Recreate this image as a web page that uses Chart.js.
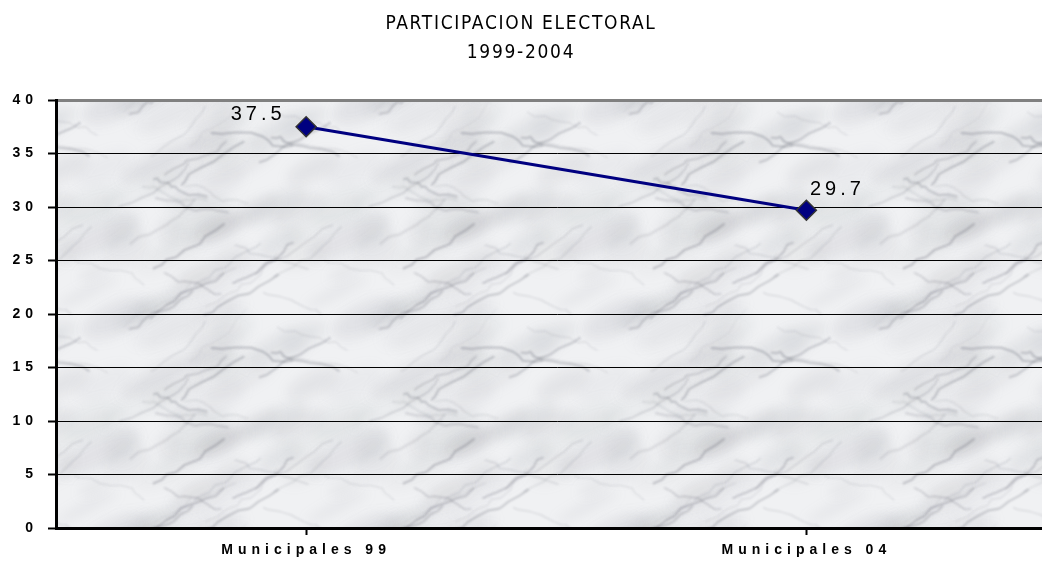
<!DOCTYPE html>
<html>
<head>
<meta charset="utf-8">
<script src="https://cdn.jsdelivr.net/npm/chart.js@4"></script>
<style>
  html, body { margin: 0; padding: 0; background: #fff; overflow: hidden; }
  #wrap { width: 1068px; height: 563px; }
</style>
</head>
<body>
<div id="wrap"><canvas id="chart" width="1068" height="563"></canvas></div>
<script>
// datos
const categories = ['Municipales 99', 'Municipales 04'];
const participacion = [37.5, 29.7];
const yTicks = [0, 5, 10, 15, 20, 25, 30, 35, 40];
const titleLines = ['PARTICIPACION ELECTORAL', '1999-2004'];

const condensed = "'DejaVu Sans Condensed', 'Liberation Sans', Arial, sans-serif";
const sans = "'Liberation Sans', Arial, sans-serif";

// marble-ish tile for the plot background (wraps seamlessly)
function marbleTile() {
  const W = 250, H = 215;
  const c = document.createElement('canvas');
  c.width = W; c.height = H;
  const g = c.getContext('2d');
  g.fillStyle = '#f0f1f3';
  g.fillRect(0, 0, W, H);
  let s = 29;
  const rnd = () => { s = (s * 9301 + 49297) % 233280; return s / 233280; };
  const wrapped = fn => {
    for (const dx of [-W, 0, W]) for (const dy of [-H, 0, H]) fn(dx, dy);
  };
  g.filter = 'blur(6px)';
  for (let i = 0; i < 50; i++) {
    const x = rnd() * W, y = rnd() * H, rx = 12 + rnd() * 35, ry = 5 + rnd() * 12, a = 0.04 + rnd() * 0.09;
    wrapped((dx, dy) => {
      g.fillStyle = 'rgba(135,137,146,' + a + ')';
      g.beginPath();
      g.ellipse(x + dx, y + dy, rx, ry, -0.45, 0, Math.PI * 2);
      g.fill();
    });
  }
  g.filter = 'blur(1px)';
  for (let i = 0; i < 30; i++) {
    const pts = [];
    let x = rnd() * W, y = rnd() * H;
    const dir = rnd() < 0.7 ? -1 : 1;
    pts.push([x, y]);
    for (let k = 0; k < 9; k++) {
      x += 3 + rnd() * 9;
      y += dir * (rnd() * 7) - 1.5;
      pts.push([x, y]);
    }
    const col = 'rgba(110,112,124,' + (0.12 + rnd() * 0.3) + ')';
    const lw = 0.6 + rnd() * 1.6;
    wrapped((dx, dy) => {
      g.strokeStyle = col;
      g.lineWidth = lw;
      g.beginPath();
      pts.forEach(([px, py], k) => k ? g.lineTo(px + dx, py + dy) : g.moveTo(px + dx, py + dy));
      g.stroke();
    });
  }
  return c;
}
const tile = marbleTile();

const spacing = {
  id: 'spacing',
  beforeLayout(chart) { chart.ctx.letterSpacing = '1.7px'; },
  afterLayout(chart) {
    const ctx = chart.ctx;
    Object.values(chart.scales).forEach(sc => {
      if (sc._spaced) return;
      const draw = sc.drawLabels.bind(sc);
      sc.drawLabels = area => {
        ctx.save();
        ctx.letterSpacing = '5px';
        draw(area);
        ctx.restore();
      };
      sc._spaced = true;
    });
    // centre the title on the visible 1042px page
    const tb = chart.titleBlock;
    if (tb && !tb._shifted) {
      const draw = tb.draw.bind(tb);
      tb.draw = area => {
        ctx.save();
        ctx.translate(-13, 0);
        draw(area);
        ctx.restore();
      };
      tb._shifted = true;
    }
  },
  beforeDraw(chart) {
    const { ctx, chartArea: a } = chart;
    ctx.save();
    ctx.fillStyle = ctx.createPattern(tile, 'repeat');
    ctx.fillRect(a.left, a.top, a.right - a.left, a.bottom - a.top);
    ctx.restore();
    ctx.letterSpacing = '1.7px';
  }
};

const labelOffsets = [[-48, -12], [31, -21]];
const valueLabels = {
  id: 'valueLabels',
  afterDatasetsDraw(chart) {
    const ctx = chart.ctx;
    const meta = chart.getDatasetMeta(0);
    ctx.save();
    ctx.font = '20px ' + sans;
    ctx.letterSpacing = '4px';
    ctx.fillStyle = '#000';
    ctx.textAlign = 'center';
    ctx.textBaseline = 'middle';
    meta.data.forEach((pt, i) => {
      ctx.fillText(participacion[i].toFixed(1), pt.x + labelOffsets[i][0], pt.y + labelOffsets[i][1]);
    });
    ctx.restore();
  }
};

new Chart(document.getElementById('chart'), {
  type: 'line',
  data: {
    labels: categories,
    datasets: [{
      data: participacion,
      borderColor: '#000080',
      borderWidth: 3,
      tension: 0,
      pointStyle: 'rectRot',
      pointRadius: 10,
      pointBackgroundColor: '#000080',
      pointBorderColor: '#333',
      pointBorderWidth: 1.5
    }]
  },
  options: {
    responsive: false,
    devicePixelRatio: 1,
    animation: false,
    layout: { padding: 0 },
    plugins: {
      legend: { display: false },
      tooltip: { enabled: false },
      title: {
        display: true,
        text: titleLines,
        color: '#000',
        font: { family: condensed, size: 19, weight: 'normal', lineHeight: 29 / 19 },
        padding: { top: 10, bottom: 32 }
      }
    },
    scales: {
      x: {
        offset: true,
        afterFit: s => { s.height = 35; },
        grid: { drawOnChartArea: false, drawTicks: true, tickLength: 7, tickColor: '#000', tickWidth: 2 },
        border: { color: '#000', width: 3 },
        ticks: { color: '#000', padding: 7, font: { family: sans, size: 14, weight: 'bold' } }
      },
      y: {
        min: 0,
        max: 40,
        afterBuildTicks: s => { s.ticks = yTicks.map(v => ({ value: v })); },
        afterFit: s => { s.width = 56; },
        grid: {
          color: c => c.tick.value === 40 ? '#808080' : '#000',
          lineWidth: c => c.tick.value === 40 ? 3 : 1,
          tickColor: '#000',
          tickWidth: 2,
          tickLength: 8
        },
        border: { color: '#000', width: 3 },
        ticks: { color: '#000', padding: 10, font: { family: sans, size: 14, weight: 'bold' } }
      }
    }
  },
  plugins: [spacing, valueLabels]
});
</script>
</body>
</html>
